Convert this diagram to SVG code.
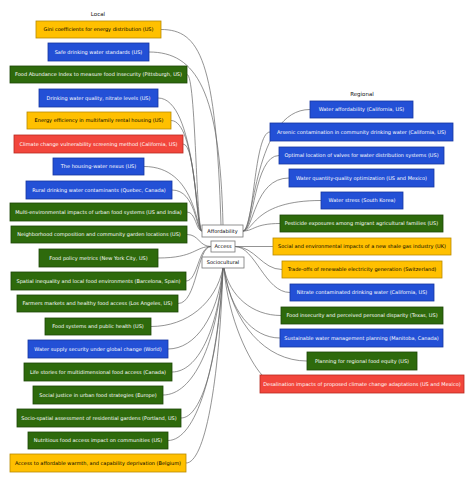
<svg xmlns="http://www.w3.org/2000/svg" width="474" height="479" viewBox="0 0 474 479">
<style>
rect{stroke-width:0.8}
.o{fill:#FFC000;stroke:#B88A00}
.b{fill:#2350D6;stroke:#1535A0}
.g{fill:#2E6A0C;stroke:#1C4606}
.r{fill:#F2463C;stroke:#B82A20}
.c{fill:#fff;stroke:#777}
text{font-family:"DejaVu Sans",Verdana,sans-serif;font-size:5px;text-anchor:middle}
.w{fill:#fff}
.k{fill:#000}
.t{font-size:5.5px;fill:#111}
#links path{fill:none;stroke:#666;stroke-width:0.7}
</style>
<rect width="474" height="479" fill="#fff"/>
<text class="t" x="98" y="16">Local</text>
<text class="t" x="362" y="96">Regional</text>
<g id="links">
<path d="M161,29.5 C200,29.5 216,60 221,225"/>
<path d="M149,52 C196,52 220,90 223,225"/>
<path d="M187,74.5 C196,74.5 196,231 202,231"/>
<path d="M158,98 C196,98 196,231 202,231"/>
<path d="M171,120.5 C196,120.5 196,231 202,231"/>
<path d="M183,144 C196,144 196,231 202,231"/>
<path d="M144,166.5 C196,166.5 196,231 202,231"/>
<path d="M172,190 C196,190 196,231 202,231"/>
<path d="M187,212 C196,212 196,231 202,231"/>
<path d="M187,234.5 C199,234.5 199,246.5 211,246.5"/>
<path d="M158,258 C195,258 195,246.5 211,246.5"/>
<path d="M186,281 C198,281 198,246.5 211,246.5"/>
<path d="M178,303.5 C197,303.5 197,246.5 211,246.5"/>
<path d="M223,268 C215.8,303.1 187,326.5 151,326.5"/>
<path d="M223,268 C217.5,316.6 195.5,349 168,349"/>
<path d="M223,268 C217.9,330.4 197.5,372 172,372"/>
<path d="M223,268 C217,344.2 193,395 163,395"/>
<path d="M223,268 C218.8,358 202,418 181,418"/>
<path d="M223,268 C217.5,371.5 195.5,440.5 168,440.5"/>
<path d="M223,268 C219.3,385 204.5,463 186,463"/>
<path d="M243,231 C254,231 254,109.5 310,109.5"/>
<path d="M243,231 C254,231 254,132 270,132"/>
<path d="M243,231 C254,231 254,155.5 279,155.5"/>
<path d="M243,231 C254,231 254,178 289,178"/>
<path d="M243,231 C254,231 254,200.5 321,200.5"/>
<path d="M243,231 C254,231 254,223.5 280,223.5"/>
<path d="M235,246.5 L273,246.5"/>
<path d="M235,246.5 C255,246.5 262,269.5 282,269.5"/>
<path d="M235,246.5 C255,246.5 265,292.5 290,292.5"/>
<path d="M224,268 C229.7,296.5 252.5,315.5 281,315.5"/>
<path d="M224,268 C229.6,310 252,338 280,338"/>
<path d="M224,268 C232.3,323.8 265.5,361 307,361"/>
<path d="M224,268 C228,320 250,362 262,375"/>
</g>
<g id="n-affordability"><rect class="c" x="202" y="225" width="41" height="12"/><text class="k" x="222.5" y="232.8">Affordability</text></g>
<g id="n-access"><rect class="c" x="211" y="241" width="24" height="11"/><text class="k" x="223" y="248.3">Access</text></g>
<g id="n-sociocultural"><rect class="c" x="202" y="257" width="42" height="11"/><text class="k" x="223" y="264.3">Sociocultural</text></g>
<g id="l1"><rect class="o" x="36" y="21" width="125" height="17"/><text class="k" x="98.5" y="31.3">Gini coefficients for energy distribution (US)</text></g>
<g id="l2"><rect class="b" x="48" y="43" width="101" height="18"/><text class="w" x="98.5" y="53.8">Safe drinking water standards (US)</text></g>
<g id="l3"><rect class="g" x="10" y="66" width="177" height="17"/><text class="w" x="98.5" y="76.3">Food Abundance Index to measure food insecurity (Pittsburgh, US)</text></g>
<g id="l4"><rect class="b" x="39" y="89" width="119" height="18"/><text class="w" x="98.5" y="99.8">Drinking water quality, nitrate levels (US)</text></g>
<g id="l5"><rect class="o" x="27" y="112" width="144" height="17"/><text class="k" x="99" y="122.3">Energy efficiency in multifamily rental housing (US)</text></g>
<g id="l6"><rect class="r" x="14" y="135" width="169" height="18"/><text class="w" x="98.5" y="145.8">Climate change vulnerability screening method (California, US)</text></g>
<g id="l7"><rect class="b" x="53" y="158" width="91" height="17"/><text class="w" x="98.5" y="168.3">The housing-water nexus (US)</text></g>
<g id="l8"><rect class="b" x="26" y="181" width="146" height="18"/><text class="w" x="99" y="191.8">Rural drinking water contaminants (Quebec, Canada)</text></g>
<g id="l9"><rect class="g" x="10" y="203" width="177" height="18"/><text class="w" x="98.5" y="213.8">Multi-environmental impacts of urban food systems (US and India)</text></g>
<g id="l10"><rect class="g" x="11" y="226" width="176" height="17"/><text class="w" x="99" y="236.3">Neighborhood composition and community garden locations (US)</text></g>
<g id="l11"><rect class="g" x="39" y="249" width="119" height="18"/><text class="w" x="98.5" y="259.8">Food policy metrics (New York City, US)</text></g>
<g id="l12"><rect class="g" x="11" y="272" width="175" height="18"/><text class="w" x="98.5" y="282.8">Spatial inequality and local food environments (Barcelona, Spain)</text></g>
<g id="l13"><rect class="g" x="17" y="295" width="161" height="17"/><text class="w" x="97.5" y="305.3">Farmers markets and healthy food access (Los Angeles, US)</text></g>
<g id="l14"><rect class="g" x="45" y="318" width="106" height="17"/><text class="w" x="98" y="328.3">Food systems and public health (US)</text></g>
<g id="l15"><rect class="b" x="28" y="340" width="140" height="18"/><text class="w" x="98" y="350.8">Water supply security under global change (World)</text></g>
<g id="l16"><rect class="g" x="24" y="363" width="148" height="18"/><text class="w" x="98" y="373.8">Life stories for multidimensional food access (Canada)</text></g>
<g id="l17"><rect class="g" x="33" y="386" width="130" height="18"/><text class="w" x="98" y="396.8">Social justice in urban food strategies (Europe)</text></g>
<g id="l18"><rect class="g" x="17" y="409" width="164" height="18"/><text class="w" x="99" y="419.8">Socio-spatial assessment of residential gardens (Portland, US)</text></g>
<g id="l19"><rect class="g" x="28" y="432" width="140" height="17"/><text class="w" x="98" y="442.3">Nutritious food access impact on communities (US)</text></g>
<g id="l20"><rect class="o" x="10" y="454" width="176" height="18"/><text class="k" x="98" y="464.8">Access to affordable warmth, and capability deprivation (Belgium)</text></g>
<g id="r1"><rect class="b" x="310" y="101" width="103" height="17"/><text class="w" x="361.5" y="111.3">Water affordability (California, US)</text></g>
<g id="r2"><rect class="b" x="270" y="123" width="183" height="18"/><text class="w" x="361.5" y="133.8">Arsenic contamination in  community drinking water (California, US)</text></g>
<g id="r3"><rect class="b" x="279" y="147" width="165" height="17"/><text class="w" x="361.5" y="157.3">Optimal location of valves for water distribution systems (US)</text></g>
<g id="r4"><rect class="b" x="289" y="169" width="145" height="18"/><text class="w" x="361.5" y="179.8">Water quantity-quality optimization (US and Mexico)</text></g>
<g id="r5"><rect class="b" x="321" y="192" width="82" height="17"/><text class="w" x="362" y="202.3">Water stress (South Korea)</text></g>
<g id="r6"><rect class="g" x="280" y="215" width="163" height="17"/><text class="w" x="361.5" y="225.3">Pesticide exposures among migrant agricultural families (US)</text></g>
<g id="r7"><rect class="o" x="273" y="238" width="178" height="17"/><text class="k" x="362" y="248.3">Social and environmental impacts of a new shale gas industry (UK)</text></g>
<g id="r8"><rect class="o" x="282" y="261" width="160" height="17"/><text class="k" x="362" y="271.3">Trade-offs of renewable electricity generation (Switzerland)</text></g>
<g id="r9"><rect class="b" x="290" y="284" width="144" height="17"/><text class="w" x="362" y="294.3">Nitrate contaminated drinking water (California, US)</text></g>
<g id="r10"><rect class="g" x="281" y="307" width="162" height="17"/><text class="w" x="362" y="317.3">Food insecurity and perceived personal disparity (Texas, US)</text></g>
<g id="r11"><rect class="b" x="280" y="329" width="163" height="18"/><text class="w" x="361.5" y="339.8">Sustainable water management planning (Manitoba, Canada)</text></g>
<g id="r12"><rect class="g" x="307" y="352" width="110" height="18"/><text class="w" x="362" y="362.8">Planning for regional food equity (US)</text></g>
<g id="r13"><rect class="r" x="260" y="375" width="204" height="18"/><text class="w" x="362" y="385.8">Desalination impacts of proposed climate change adaptations (US and Mexico)</text></g>
</svg>
